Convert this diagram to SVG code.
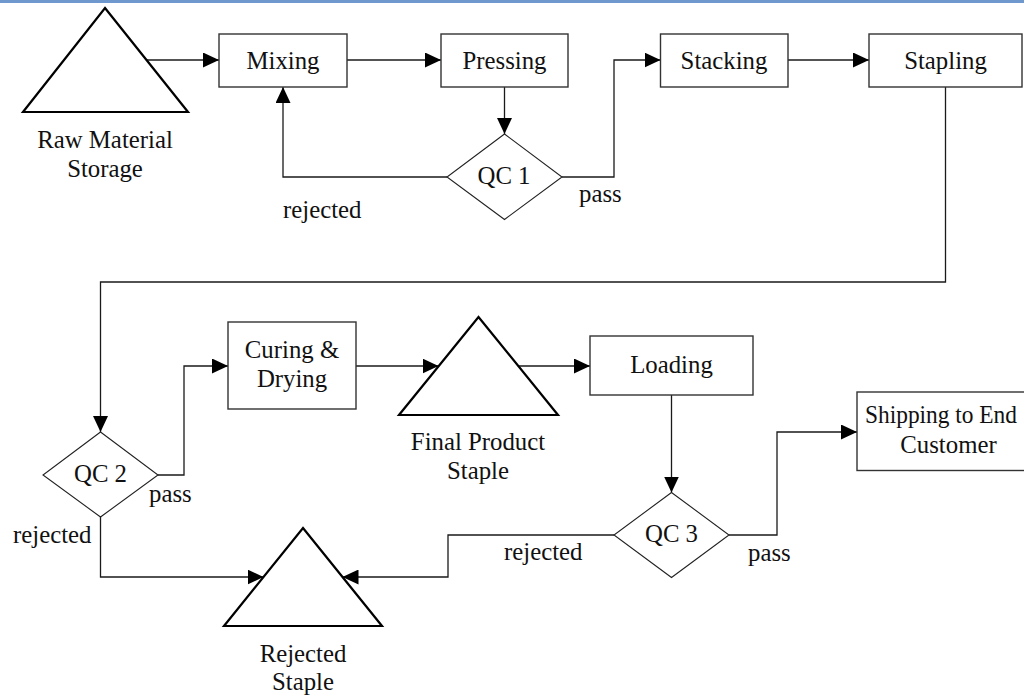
<svg xmlns="http://www.w3.org/2000/svg" width="1024" height="697" viewBox="0 0 1024 697">
  <style>
    text { font-family: "Liberation Serif", "Times New Roman", serif; font-size: 24.8px; fill: #111; }
    .c { text-anchor: middle; }
    .box { fill: #fff; stroke: #333; stroke-width: 1.4; }
    .tri { fill: #fff; stroke: #000; stroke-width: 2.2; stroke-linejoin: miter; }
    .dia { fill: #fff; stroke: #222; stroke-width: 1.1; }
    .edge { fill: none; stroke: #1a1a1a; stroke-width: 1.3; }
    .arr { marker-end: url(#head); }
  </style>
  <defs>
    <marker id="head" viewBox="0 0 16 15" refX="16" refY="7.5" markerWidth="16" markerHeight="15" markerUnits="userSpaceOnUse" orient="auto">
      <path d="M0,0 L16,7.5 L0,15 z" fill="#000"/>
    </marker>
  </defs>

  <rect width="1024" height="697" fill="#fff"/>
  <!-- page header rule -->
  <rect x="0" y="0" width="1024" height="3" fill="#6f98cf"/>

  <!-- connectors -->
  <g id="connectors">
    <path class="edge arr" d="M146.5,60 H219"/>
    <path class="edge arr" d="M347,60 H441"/>
    <path class="edge arr" d="M504.5,87 V134"/>
    <path class="edge arr" d="M562,177 H614 V60 H660.5"/>
    <path class="edge arr" d="M447,177 H283 V87"/>
    <path class="edge arr" d="M788,60 H869"/>
    <path class="edge arr" d="M945.5,87 V282 H100.5 V432"/>
    <path class="edge arr" d="M158,475 H184 V366 H228"/>
    <path class="edge arr" d="M356,366 H438.5"/>
    <path class="edge arr" d="M518,366 H590"/>
    <path class="edge arr" d="M671.5,395 V492.5"/>
    <path class="edge arr" d="M729,535 H777 V432 H857"/>
    <path class="edge arr" d="M100.5,517 V577 H263.5"/>
    <path class="edge arr" d="M614,535 H448 V577 H342.5"/>
  </g>

  <!-- edge labels -->
  <g id="edge-labels">
    <text x="283" y="218">rejected</text>
    <text x="579" y="202">pass</text>
    <text x="149" y="501.5">pass</text>
    <text x="13" y="543">rejected</text>
    <text x="748" y="560.5">pass</text>
    <text x="504" y="560">rejected</text>
  </g>

  <g id="raw-material-storage">
    <polygon class="tri" points="105,8 188,112 23,112"/>
    <text class="c" x="105" y="148">Raw Material</text>
    <text class="c" x="105" y="177">Storage</text>
  </g>

  <g id="mixing">
    <rect class="box" x="219" y="34" width="128" height="53"/>
    <text class="c" x="283" y="69">Mixing</text>
  </g>

  <g id="pressing">
    <rect class="box" x="441" y="34" width="127" height="53"/>
    <text class="c" x="504.5" y="69">Pressing</text>
  </g>

  <g id="qc1">
    <polygon class="dia" points="504.5,134 562,177 504.5,219.5 447,177"/>
    <text class="c" x="504" y="184">QC 1</text>
  </g>

  <g id="stacking">
    <rect class="box" x="660.5" y="34" width="127.5" height="53"/>
    <text class="c" x="724" y="69">Stacking</text>
  </g>

  <g id="stapling">
    <rect class="box" x="869" y="34" width="153" height="53"/>
    <text class="c" x="945.5" y="69">Stapling</text>
  </g>

  <g id="qc2">
    <polygon class="dia" points="100.5,432 158,475 100.5,517 43,475"/>
    <text class="c" x="100.5" y="482">QC 2</text>
  </g>

  <g id="curing-drying">
    <rect class="box" x="228" y="322" width="128" height="87"/>
    <text class="c" x="292" y="357.5">Curing &amp;</text>
    <text class="c" x="292" y="387">Drying</text>
  </g>

  <g id="final-product-staple">
    <polygon class="tri" points="478.5,317 558,415 399,415"/>
    <text class="c" x="478" y="450">Final Product</text>
    <text class="c" x="478" y="479">Staple</text>
  </g>

  <g id="loading">
    <rect class="box" x="590" y="336" width="163" height="59"/>
    <text class="c" x="671.5" y="373">Loading</text>
  </g>

  <g id="qc3">
    <polygon class="dia" points="671.5,492.5 729,535 671.5,577.5 614,535"/>
    <text class="c" x="671.5" y="542">QC 3</text>
  </g>

  <!-- box runs past the right page edge; first line is fitted inside the page -->
  <g id="shipping">
    <rect class="box" x="857" y="392" width="183" height="78.5"/>
    <text x="865" y="423" textLength="152" lengthAdjust="spacingAndGlyphs">Shipping to End</text>
    <text class="c" x="948.5" y="452.5">Customer</text>
  </g>

  <g id="rejected-staple">
    <polygon class="tri" points="303,528 382,626 224,626"/>
    <text class="c" x="303" y="661.5">Rejected</text>
    <text class="c" x="303" y="690">Staple</text>
  </g>
</svg>
